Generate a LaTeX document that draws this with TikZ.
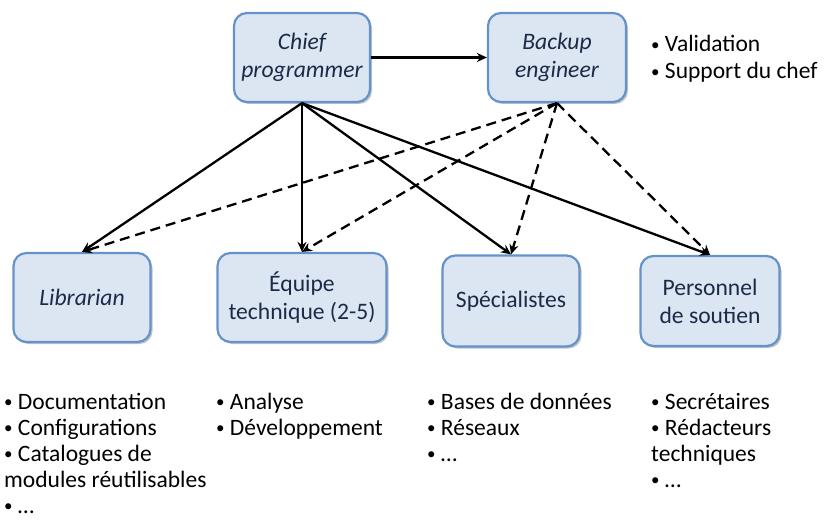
\documentclass[tikz,border=0pt]{standalone}
\usepackage{fontspec}
\setmainfont{Carlito}
\usetikzlibrary{arrows.meta,shadows}
\definecolor{boxfill}{HTML}{DCE6F2}
\definecolor{boxline}{HTML}{6493CB}
\definecolor{boxtext}{HTML}{1C2A48}
% small list bullet followed by a space
\newcommand{\listdot}{{\fontsize{17}{17}\selectfont\raisebox{1.6pt}{•}}\ }
\tikzset{
  rolebox/.style={draw=boxline, line width=2.2pt, fill=boxfill, rounded corners=13pt,
    align=center, text=boxtext, font=\fontsize{23.6}{28}\selectfont,
    drop shadow={shadow xshift=2pt, shadow yshift=-2pt, fill=black!40, opacity=0.6}},
  listline/.style={anchor=base west, inner sep=0pt, font=\fontsize{23.5}{26}\selectfont},
  lead/.style={line width=2.3pt, -{Stealth[length=10pt,width=9pt]}},
  backup/.style={lead, dash pattern=on 10pt off 6pt},
}
\begin{document}
\begin{tikzpicture}[x=1pt,y=-1pt]
\useasboundingbox (0,0) rectangle (825,524);

% top row
\node[rolebox, minimum width=136pt, minimum height=89pt] (chief) at (302,57.5) {\itshape Chief\\\itshape programmer};
\node[rolebox, minimum width=138pt, minimum height=89pt] (backupeng) at (557,57.5) {\itshape Backup\\\itshape engineer};

% bottom row
\node[rolebox, minimum width=137pt, minimum height=89pt] (lib) at (82,297.5) {\itshape Librarian};
\node[rolebox, minimum width=169pt, minimum height=89pt] (team) at (302,297.5) {Équipe\\technique (2-5)};
\node[rolebox, minimum width=137pt, minimum height=91pt] (spec) at (511,301) {Spécialistes};
\node[rolebox, minimum width=139pt, minimum height=90pt] (staff) at (710,301) {Personnel\\de soutien};

% reporting lines
\draw[lead] (chief.east) -- (backupeng.west);
\draw[lead] (chief.south) -- (lib.north);
\draw[lead] (chief.south) -- (team.north);
\draw[lead] (chief.south) -- (spec.north);
\draw[lead] (chief.south) -- (staff.north);

% support lines from the backup engineer
\draw[backup] (backupeng.south) -- (lib.north);
\draw[backup] (backupeng.south) -- (team.north);
\draw[backup] (backupeng.south) -- (spec.north);
\draw[backup] (backupeng.south) -- (staff.north);

% duties of the backup engineer
\node[listline] (v1) at (651,52) {\listdot Validation};
\node[listline] (v2) at (651,79) {\listdot Support du chef};

% duties of each group
\node[listline] (a1) at (4,409) {\listdot Documentation};
\node[listline] (a2) at (4,435) {\listdot Configurations};
\node[listline] (a3) at (4,461) {\listdot Catalogues de};
\node[listline] (a4) at (4,487) {modules réutilisables};
\node[listline] (a5) at (4,513) {\listdot …};

\node[listline] (b1) at (216,409) {\listdot Analyse};
\node[listline] (b2) at (216,435) {\listdot Développement};

\node[listline] (c1) at (427,409) {\listdot Bases de données};
\node[listline] (c2) at (427,435) {\listdot Réseaux};
\node[listline] (c3) at (427,461) {\listdot …};

\node[listline] (d1) at (651,409) {\listdot Secrétaires};
\node[listline] (d2) at (651,435) {\listdot Rédacteurs};
\node[listline] (d3) at (651,461) {techniques};
\node[listline] (d4) at (651,487) {\listdot …};
\end{tikzpicture}
\end{document}
